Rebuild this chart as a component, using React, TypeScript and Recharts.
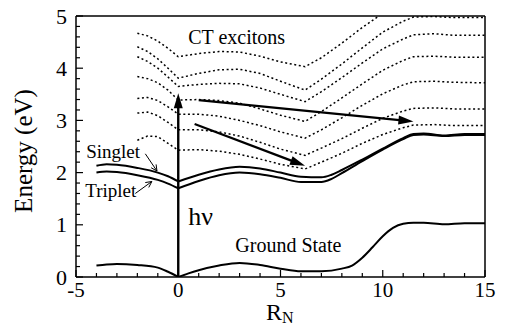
import React from "react";
import { LineChart, Line, XAxis, YAxis, ReferenceLine, ReferenceDot } from "recharts";

// CT exciton curves share one x grid
const ctX = [-2, -1.5, -1, -0.5, 0, 1, 2, 3, 4, 5, 6.2, 7, 8, 9, 10, 11, 11.5, 12.5, 13.5, 15];
const ct1 = [4.67, 4.62, 4.52, 4.38, 4.22, 4.28, 4.32, 4.31, 4.23, 4.12, 4.03, 4.2, 4.48, 4.78, 5.05, 5.3, 5.4, 5.42, 5.4, 5.4];
const ct2 = [4.41, 4.32, 4.18, 4.0, 3.81, 3.9, 3.97, 3.98, 3.9, 3.75, 3.58, 3.79, 4.08, 4.39, 4.69, 4.9, 4.98, 4.99, 4.97, 4.97];
const ct3 = [4.22, 4.13, 4.0, 3.83, 3.65, 3.69, 3.71, 3.7, 3.62, 3.5, 3.36, 3.55, 3.82, 4.1, 4.37, 4.56, 4.64, 4.66, 4.63, 4.63];
const ct4 = [3.84, 3.8, 3.72, 3.58, 3.39, 3.4, 3.38, 3.33, 3.22, 3.1, 2.98, 3.17, 3.43, 3.7, 3.96, 4.15, 4.22, 4.23, 4.21, 4.21];
const ct5 = [3.42, 3.44, 3.38, 3.26, 3.12, 3.12, 3.08, 3.0, 2.9, 2.78, 2.66, 2.82, 3.05, 3.29, 3.51, 3.68, 3.74, 3.75, 3.73, 3.72];
const ct6 = [3.14, 3.16, 3.09, 2.96, 2.82, 2.82, 2.78, 2.7, 2.58, 2.45, 2.33, 2.47, 2.65, 2.85, 3.04, 3.18, 3.23, 3.24, 3.22, 3.22];
const ct7 = [2.62, 2.7, 2.69, 2.56, 2.43, 2.44, 2.41, 2.35, 2.26, 2.16, 2.07, 2.2, 2.37, 2.56, 2.73, 2.86, 2.91, 2.92, 2.9, 2.9];

// solid curves: left branch (R < 0) and right branch (R > 0), cusp at 0
const leftX = [-4, -3.5, -3, -2, -1, -0.5, 0];
const singletLeft = [2.13, 2.16, 2.15, 2.09, 2.0, 1.93, 1.83];
const tripletLeft = [2.0, 2.02, 2.01, 1.95, 1.86, 1.79, 1.7];
const groundLeft = [0.22, 0.24, 0.25, 0.23, 0.18, 0.1, 0.0];

const rightX = [0, 1, 2, 3, 4, 5, 6, 7, 7.5, 8, 9, 10, 11, 11.5, 12, 13, 14, 15];
const singletRight = [1.83, 1.96, 2.06, 2.11, 2.08, 2.0, 1.92, 1.91, 1.96, 2.05, 2.25, 2.46, 2.66, 2.74, 2.75, 2.71, 2.74, 2.74];
const tripletRight = [1.7, 1.84, 1.95, 2.0, 1.97, 1.9, 1.82, 1.82, 1.88, 1.99, 2.22, 2.44, 2.64, 2.72, 2.73, 2.7, 2.72, 2.72];

const groundX = [0, 0.5, 1, 2, 3, 4, 5, 6, 7, 8, 8.5, 9, 9.5, 10, 10.5, 11, 11.5, 12, 13, 14, 15];
const groundRight = [0, 0.07, 0.13, 0.22, 0.27, 0.23, 0.16, 0.11, 0.11, 0.16, 0.22, 0.37, 0.57, 0.78, 0.94, 1.02, 1.04, 1.04, 1.01, 1.03, 1.03];

const xTicks = [-5, -4, -3, -2, -1, 0, 1, 2, 3, 4, 5, 6, 7, 8, 9, 10, 11, 12, 13, 14, 15];
const yTicks = [0, 0.2, 0.4, 0.6, 0.8, 1, 1.2, 1.4, 1.6, 1.8, 2, 2.2, 2.4, 2.6, 2.8, 3, 3.2, 3.4, 3.6, 3.8, 4, 4.2, 4.4, 4.6, 4.8, 5];

const FONT = "'Liberation Serif', 'Times New Roman', serif";

const toPts = (xs: number[], ys: number[]) => xs.map((x, i) => ({ x, y: ys[i] }));

const isMajor = (v: number, step: number) => Math.abs(v / step - Math.round(v / step)) < 1e-6;

const BottomTick = ({ x, y, payload }: any) => {
  const major = isMajor(payload.value, 5);
  return (
    <g>
      <line x1={x} x2={x} y1={y} y2={y - (major ? 7 : 4)} stroke="#000" strokeWidth={1.2} />
      {major && (
        <text x={x} y={y + 20} textAnchor="middle" fontSize={21} fontFamily={FONT} fill="#000">
          {payload.value}
        </text>
      )}
    </g>
  );
};

const TopTick = ({ x, y, payload }: any) => {
  const major = isMajor(payload.value, 5);
  return <line x1={x} x2={x} y1={y} y2={y + (major ? 7 : 4)} stroke="#000" strokeWidth={1.2} />;
};

const LeftTick = ({ x, y, payload }: any) => {
  const major = isMajor(payload.value, 1);
  return (
    <g>
      <line x1={x} x2={x + (major ? 7 : 4)} y1={y} y2={y} stroke="#000" strokeWidth={1.2} />
      {major && (
        <text x={x - 9} y={y + 7.5} textAnchor="end" fontSize={22} fontFamily={FONT} fill="#000">
          {payload.value}
        </text>
      )}
    </g>
  );
};

const RightTick = ({ x, y, payload }: any) => {
  const major = isMajor(payload.value, 1);
  return <line x1={x} x2={x - (major ? 7 : 4)} y1={y} y2={y} stroke="#000" strokeWidth={1.2} />;
};

const arrow = (w: number, head: number, half: number, open: boolean) => (p: any) => {
  const { x1, y1, x2, y2 } = p;
  const dx = x2 - x1;
  const dy = y2 - y1;
  const len = Math.hypot(dx, dy) || 1;
  const ux = dx / len;
  const uy = dy / len;
  const bx = x2 - ux * head;
  const by = y2 - uy * head;
  const nx = -uy * half;
  const ny = ux * half;
  return (
    <g>
      <line x1={x1} y1={y1} x2={open ? x2 : bx + ux} y2={open ? y2 : by + uy} stroke="#000" strokeWidth={w} />
      {open ? (
        <polyline points={`${bx + nx},${by + ny} ${x2},${y2} ${bx - nx},${by - ny}`} fill="none" stroke="#000" strokeWidth={w} />
      ) : (
        <polygon points={`${x2},${y2} ${bx + nx},${by + ny} ${bx - nx},${by - ny}`} fill="#000" />
      )}
    </g>
  );
};

const note = (text: string, size: number) => (p: any) => (
  <text x={p.cx} y={p.cy} fontSize={size} fontFamily={FONT} fill="#000">
    {text}
  </text>
);

const XTitle = () => (
  <text x={266} y={320} fontFamily={FONT} fill="#000">
    <tspan fontSize={24}>R</tspan>
    <tspan fontSize={16} dy={3}>N</tspan>
  </text>
);

const YTitle = () => (
  <text x={32} y={151} transform="rotate(-90 32 151)" textAnchor="middle" fontSize={25} fontFamily={FONT} fill="#000">
    Energy (eV)
  </text>
);

const dotted = { stroke: "#000", strokeWidth: 1.5, strokeDasharray: "2 2.6" };
const ctSeries = [ct1, ct2, ct3, ct4, ct5, ct6, ct7];

export default function App() {
  return (
    <div style={{ position: "absolute", left: 0, top: 0, background: "#fff" }}>
      <LineChart width={505} height={331} margin={{ top: 15, right: 19, bottom: 53, left: 75 }}>
        <XAxis
          dataKey="x"
          type="number"
          domain={[-5, 15]}
          ticks={xTicks}
          interval={0}
          height={1}
          tickSize={0}
          tickMargin={0}
          tickLine={false}
          tick={<BottomTick />}
          axisLine={{ stroke: "#000", strokeWidth: 1.5 }}
          label={<XTitle />}
          allowDataOverflow
        />
        <XAxis
          xAxisId="top"
          orientation="top"
          type="number"
          domain={[-5, 15]}
          ticks={xTicks}
          interval={0}
          height={1}
          tickSize={0}
          tickMargin={0}
          tickLine={false}
          tick={<TopTick />}
          axisLine={{ stroke: "#000", strokeWidth: 1.5 }}
        />
        <YAxis
          type="number"
          domain={[0, 5]}
          ticks={yTicks}
          interval={0}
          width={1}
          tickSize={0}
          tickMargin={0}
          tickLine={false}
          tick={<LeftTick />}
          axisLine={{ stroke: "#000", strokeWidth: 1.5 }}
          label={<YTitle />}
          allowDataOverflow
        />
        <YAxis
          yAxisId="right"
          orientation="right"
          type="number"
          domain={[0, 5]}
          ticks={yTicks}
          interval={0}
          width={1}
          tickSize={0}
          tickMargin={0}
          tickLine={false}
          tick={<RightTick />}
          axisLine={{ stroke: "#000", strokeWidth: 1.5 }}
        />

        {ctSeries.map((ys, i) => (
          <Line
            key={"ct" + i}
            data={toPts(ctX, ys)}
            dataKey="y"
            type="linear"
            dot={false}
            isAnimationActive={false}
            {...dotted}
          />
        ))}

        <Line data={toPts(leftX, singletLeft)} dataKey="y" type="monotone" dot={false} stroke="#000" strokeWidth={2} isAnimationActive={false} />
        <Line data={toPts(leftX, tripletLeft)} dataKey="y" type="monotone" dot={false} stroke="#000" strokeWidth={2} isAnimationActive={false} />
        <Line data={toPts(rightX, singletRight)} dataKey="y" type="monotone" dot={false} stroke="#000" strokeWidth={2} isAnimationActive={false} />
        <Line data={toPts(rightX, tripletRight)} dataKey="y" type="monotone" dot={false} stroke="#000" strokeWidth={2} isAnimationActive={false} />
        <Line data={toPts(leftX, groundLeft)} dataKey="y" type="monotone" dot={false} stroke="#000" strokeWidth={2} isAnimationActive={false} />
        <Line data={toPts(groundX, groundRight)} dataKey="y" type="monotone" dot={false} stroke="#000" strokeWidth={2} isAnimationActive={false} />

        <ReferenceLine segment={[{ x: 0, y: 0 }, { x: 0, y: 3.52 }]} shape={arrow(2.4, 15, 4.5, false)} />
        <ReferenceLine segment={[{ x: 1.0, y: 3.39 }, { x: 11.5, y: 2.98 }]} shape={arrow(2.2, 15, 4.5, false)} />
        <ReferenceLine segment={[{ x: 0.8, y: 2.93 }, { x: 6.2, y: 2.13 }]} shape={arrow(2.2, 15, 4.5, false)} />
        <ReferenceLine segment={[{ x: -1.61, y: 2.36 }, { x: -1.04, y: 2.03 }]} shape={arrow(1, 6, 3, true)} />
        <ReferenceLine segment={[{ x: -2.1, y: 1.6 }, { x: -1.29, y: 1.83 }]} shape={arrow(1, 6, 3, true)} />

        <ReferenceDot x={0.49} y={4.47} r={0} shape={note("CT excitons", 20)} />
        <ReferenceDot x={-4.5} y={2.28} r={0} shape={note("Singlet", 19)} />
        <ReferenceDot x={-4.55} y={1.53} r={0} shape={note("Triplet", 19)} />
        <ReferenceDot x={0.49} y={1.0} r={0} shape={note("hν", 26)} />
        <ReferenceDot x={2.79} y={0.48} r={0} shape={note("Ground State", 20)} />
      </LineChart>
    </div>
  );
}
